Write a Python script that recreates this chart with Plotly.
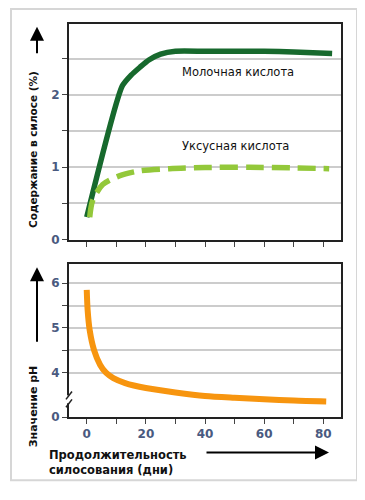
import plotly.graph_objects as go

# ---- data ----
lactic_days = [0, 12, 15, 18, 21, 25, 30, 40, 50, 60, 70, 83]
lactic_vals = [0.31, 2.12, 2.27, 2.38, 2.48, 2.56, 2.6, 2.6, 2.6, 2.6, 2.59, 2.57]

acetic_days = [1, 2, 5.4, 11, 18, 28, 40, 55, 70, 82]
acetic_vals = [0.31, 0.54, 0.76, 0.88, 0.95, 0.98, 0.995, 1.0, 0.99, 0.98]

ph_days = [0, 0.3, 1, 2.5, 4.5, 6.5, 9, 13, 20, 30, 40, 50, 60, 70, 81]
ph_vals = [5.85, 5.4, 4.95, 4.5, 4.18, 4.0, 3.88, 3.77, 3.66, 3.56, 3.48, 3.44, 3.41, 3.38, 3.36]

x_ticks = [0, 10, 20, 30, 40, 50, 60, 70, 80]
x_ticktext = ["0", "", "20", "", "40", "", "60", "", "80"]
top_y_ticks = [0, 0.5, 1, 1.5, 2, 2.5]
top_y_text = ["0", "", "1", "", "2", ""]
bot_y_ticks = [3.01, 4, 4.5, 5, 5.5, 6]
bot_y_text = ["0", "4", "", "5", "", "6"]

FONT = "DejaVu Sans"
TICKCOL = "#4a5a80"
OFF = 8  # page body margin
W, H = 365 - OFF, 500 - OFF

def px(x):
    return (x - OFF) / W

def py(y):
    return 1 - (y - OFF) / H

fig = go.Figure()
fig.add_trace(go.Scatter(x=lactic_days, y=lactic_vals, mode="lines",
                         line=dict(color="#17692d", width=5.5, shape="spline", smoothing=0.6),
                         xaxis="x", yaxis="y", showlegend=False))
fig.add_trace(go.Scatter(x=acetic_days, y=acetic_vals, mode="lines",
                         line=dict(color="#93c83a", width=5.5, dash="18px,8px", shape="spline", smoothing=0.8),
                         xaxis="x", yaxis="y", showlegend=False))
fig.add_trace(go.Scatter(x=ph_days, y=ph_vals, mode="lines",
                         line=dict(color="#f7950f", width=6, shape="spline", smoothing=0.8),
                         xaxis="x2", yaxis="y2", showlegend=False))

axis_common = dict(showline=True, linecolor="#222222", linewidth=2, mirror=True,
                   ticks="outside", ticklen=5, tickcolor="#444444", tickwidth=1,
                   zeroline=False, fixedrange=True,
                   tickfont=dict(family=FONT, size=12, color=TICKCOL, weight="bold"))

fig.update_layout(
    width=W, height=H,
    margin=dict(l=0, r=0, t=0, b=0),
    paper_bgcolor="white", plot_bgcolor="white",
    xaxis=dict(domain=[px(69), px(341)], range=[-6, 86], anchor="y",
               tickvals=x_ticks, ticktext=[""] * len(x_ticks), showgrid=False, **axis_common),
    yaxis=dict(domain=[py(243), py(24)], range=[0, 2.98], anchor="x",
               tickvals=top_y_ticks, ticktext=top_y_text, showgrid=True,
               gridcolor="#cccccc", gridwidth=1.5, **axis_common),
    xaxis2=dict(domain=[px(69), px(341)], range=[-6, 86], anchor="y2",
                tickvals=x_ticks, ticktext=x_ticktext, showgrid=False, **axis_common),
    yaxis2=dict(domain=[py(423), py(268)], range=[3.01, 6.42], anchor="x2",
                tickvals=bot_y_ticks, ticktext=bot_y_text, showgrid=True,
                gridcolor="#cccccc", gridwidth=1.5, **axis_common),
)

shapes = [
    # outer frame
    dict(type="rect", xref="paper", yref="paper", x0=px(11), x1=px(357), y0=py(487), y1=py(9),
         line=dict(color="#d6d6d6", width=2), fillcolor="rgba(0,0,0,0)", layer="below"),
    # axis break
    dict(type="rect", xref="paper", yref="paper", x0=px(66), x1=px(72), y0=py(409), y1=py(401),
         line=dict(width=0), fillcolor="white", layer="above"),
    dict(type="line", xref="paper", yref="paper", x0=px(66), x1=px(72), y0=py(405), y1=py(397),
         line=dict(color="#222222", width=1.5)),
    dict(type="line", xref="paper", yref="paper", x0=px(66), x1=px(72), y0=py(413), y1=py(405),
         line=dict(color="#222222", width=1.5)),
]
fig.update_layout(shapes=shapes)

ann = [
    dict(text="Молочная кислота", x=31.5, y=2.31, xref="x", yref="y", xanchor="left",
         yanchor="middle", showarrow=False, font=dict(family=FONT, size=11.5, color="#111111")),
    dict(text="Уксусная кислота", x=31.5, y=1.29, xref="x", yref="y", xanchor="left",
         yanchor="middle", showarrow=False, font=dict(family=FONT, size=11.5, color="#111111")),
    dict(text="Содержание в силосе (%)", x=px(33), y=py(152), xref="paper", yref="paper",
         textangle=-90, showarrow=False, xanchor="center", yanchor="middle",
         font=dict(family=FONT, size=10.5, color="#111111", weight="bold")),
    dict(text="Значение pH", x=px(33), y=py(412), xref="paper", yref="paper",
         textangle=-90, showarrow=False, xanchor="center", yanchor="middle",
         font=dict(family=FONT, size=11, color="#111111", weight="bold")),
    dict(text="Продолжительность<br>силосования (дни)", x=px(47), y=py(469), xref="paper", yref="paper",
         showarrow=False, xanchor="left", yanchor="middle", align="left",
         font=dict(family=FONT, size=11.5, color="#111111", weight="bold")),
    # arrows
    dict(text="", x=px(37), y=py(27), xref="paper", yref="paper", ax=0, ay=28,
         showarrow=True, arrowhead=2, arrowsize=1.4, arrowwidth=2, arrowcolor="#000000"),
    dict(text="", x=px(37), y=py(271), xref="paper", yref="paper", ax=0, ay=76,
         showarrow=True, arrowhead=2, arrowsize=1.4, arrowwidth=2, arrowcolor="#000000"),
    dict(text="", x=px(329), y=py(459), xref="paper", yref="paper", ax=-124, ay=0,
         showarrow=True, arrowhead=2, arrowsize=1.4, arrowwidth=2, arrowcolor="#000000"),
]
fig.update_layout(annotations=ann)

fig.write_html("out.html")
